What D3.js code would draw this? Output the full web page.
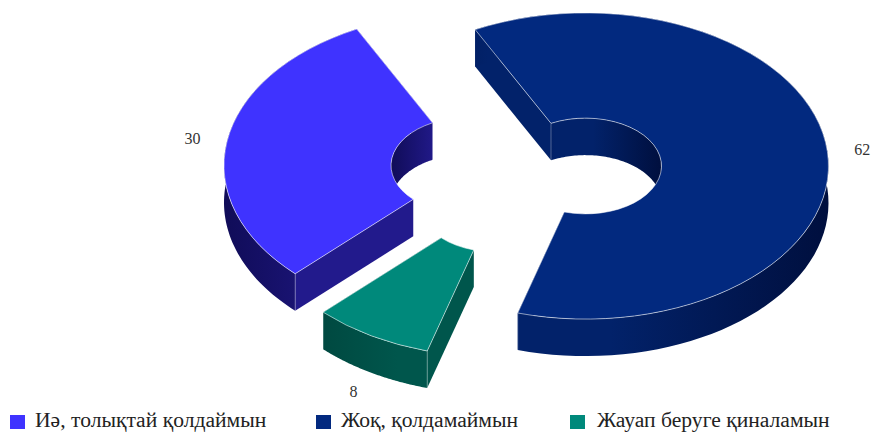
<!DOCTYPE html>
<html>
<head>
<meta charset="utf-8">
<script src="https://cdn.jsdelivr.net/npm/d3@7"></script>
<style>
  body { margin: 0; background: #fff; }
  svg { display: block; font-family: "Liberation Serif", serif; }
</style>
</head>
<body>
<svg width="873" height="432"></svg>
<script>
const categories = ["Иә, толықтай қолдаймын", "Жоқ, қолдамаймын", "Жауап беруге қиналамын"]
const values = [30, 62, 8]

// colours per slice
const topColors = ["#3f33ff", "#02297f", "#00897b"]
const wallColors = ["#221a8c", "#02226a", "#00564c"]
const wallDarks = ["#100c58", "#000f3e", "#003d36"]

// where each exploded slice sits on the page
const centers = [[467, 165.5], [585.5, 166], [495, 204]]
const legendX = [10, 316, 570]
const legendTextX = [25, 25, 27]

const outerR = 243
const innerR = 76
const tilt = 0.63
const depth = 37
const labelR = 278
const startAngle = -135 * Math.PI / 180

let svg = d3.select("svg")
let defs = svg.append("defs")

let pieData = d3.pie().sort(null).startAngle(startAngle).endAngle(startAngle + 2 * Math.PI)(values)
let arcTop = d3.arc().innerRadius(innerR).outerRadius(outerR)

let wallArea = d3.area()
  .x(d => d.r * Math.sin(d.a))
  .y0(d => -d.r * Math.cos(d.a) * tilt)
  .y1(d => -d.r * Math.cos(d.a) * tilt + depth)

function arcPoints(r, a0, a1) {
  let n = 80
  return d3.range(n + 1).map(i => ({ r: r, a: a0 + (a1 - a0) * i / n }))
}

function makeGradient(id, r, light, dark) {
  let g = defs.append("linearGradient")
    .attr("id", id)
    .attr("gradientUnits", "userSpaceOnUse")
    .attr("x1", -r).attr("x2", r).attr("y1", 0).attr("y2", 0)
  g.append("stop").attr("offset", 0).attr("stop-color", dark)
  g.append("stop").attr("offset", 0.3).attr("stop-color", light)
  g.append("stop").attr("offset", 0.55).attr("stop-color", light)
  g.append("stop").attr("offset", 1).attr("stop-color", dark)
}

pieData.forEach((d, i) => {
  makeGradient("outer" + i, outerR, wallColors[i], wallDarks[i])
  makeGradient("inner" + i, innerR, wallColors[i], wallDarks[i])

  let g = svg.append("g").attr("transform", `translate(${centers[i][0]},${centers[i][1]})`)

  // flat cut walls go first, the curved ones cover whatever is hidden
  ;[d.startAngle, d.endAngle].forEach(a => {
    g.append("path")
      .attr("d", wallArea([{ r: innerR, a: a }, { r: outerR, a: a }]))
      .attr("fill", wallColors[i])
  })

  // inner wall, only the back half of the hole faces the viewer
  let a0 = Math.max(d.startAngle, -Math.PI / 2)
  let a1 = Math.min(d.endAngle, Math.PI / 2)
  if (a1 > a0) {
    g.append("path")
      .attr("d", wallArea(arcPoints(innerR, a0, a1)))
      .attr("fill", `url(#inner${i})`)
  }

  // outer wall
  g.append("path")
    .attr("d", wallArea(arcPoints(outerR, d.startAngle, d.endAngle)))
    .attr("fill", `url(#outer${i})`)

  // front corner edges
  let corners = [outerR, innerR].flatMap(r => [d.startAngle, d.endAngle].map(a => ({ r: r, a: a })))
  g.selectAll("line.corner")
    .data(corners.filter(c => c.r === outerR ? Math.cos(c.a) < 0 : Math.cos(c.a) > 0))
    .enter()
    .append("line")
    .attr("class", "corner")
    .attr("x1", c => c.r * Math.sin(c.a))
    .attr("x2", c => c.r * Math.sin(c.a))
    .attr("y1", c => -c.r * Math.cos(c.a) * tilt)
    .attr("y2", c => -c.r * Math.cos(c.a) * tilt + depth)
    .attr("stroke", "rgba(255,255,255,0.4)")
    .attr("stroke-width", 0.8)

  // top face
  g.append("path")
    .attr("d", arcTop(d))
    .attr("transform", `scale(1,${tilt})`)
    .attr("fill", topColors[i])
    .attr("stroke", "rgba(255,255,255,0.55)")
    .attr("stroke-width", 1)
    .attr("vector-effect", "non-scaling-stroke")

  // value label
  let mid = (d.startAngle + d.endAngle) / 2
  let lx = labelR * Math.sin(mid)
  let ly = -labelR * Math.cos(mid) * tilt + (Math.cos(mid) < 0 ? depth : 0)
  g.append("text")
    .attr("x", lx)
    .attr("y", ly)
    .attr("dy", "0.35em")
    .attr("text-anchor", "middle")
    .attr("fill", "#333")
    .style("font-size", "16px")
    .text(d.data)
})

let legend = svg.selectAll("g.legend")
  .data(categories)
  .enter()
  .append("g")
  .attr("class", "legend")
  .attr("transform", (d, i) => `translate(${legendX[i]},415)`)

legend.append("rect")
  .attr("width", 15)
  .attr("height", 14)
  .attr("fill", (d, i) => topColors[i])

legend.append("text")
  .attr("x", (d, i) => legendTextX[i])
  .attr("y", 12.2)
  .attr("fill", "#222")
  .style("font-size", "21.6px")
  .text(d => d)
</script>
</body>
</html>
